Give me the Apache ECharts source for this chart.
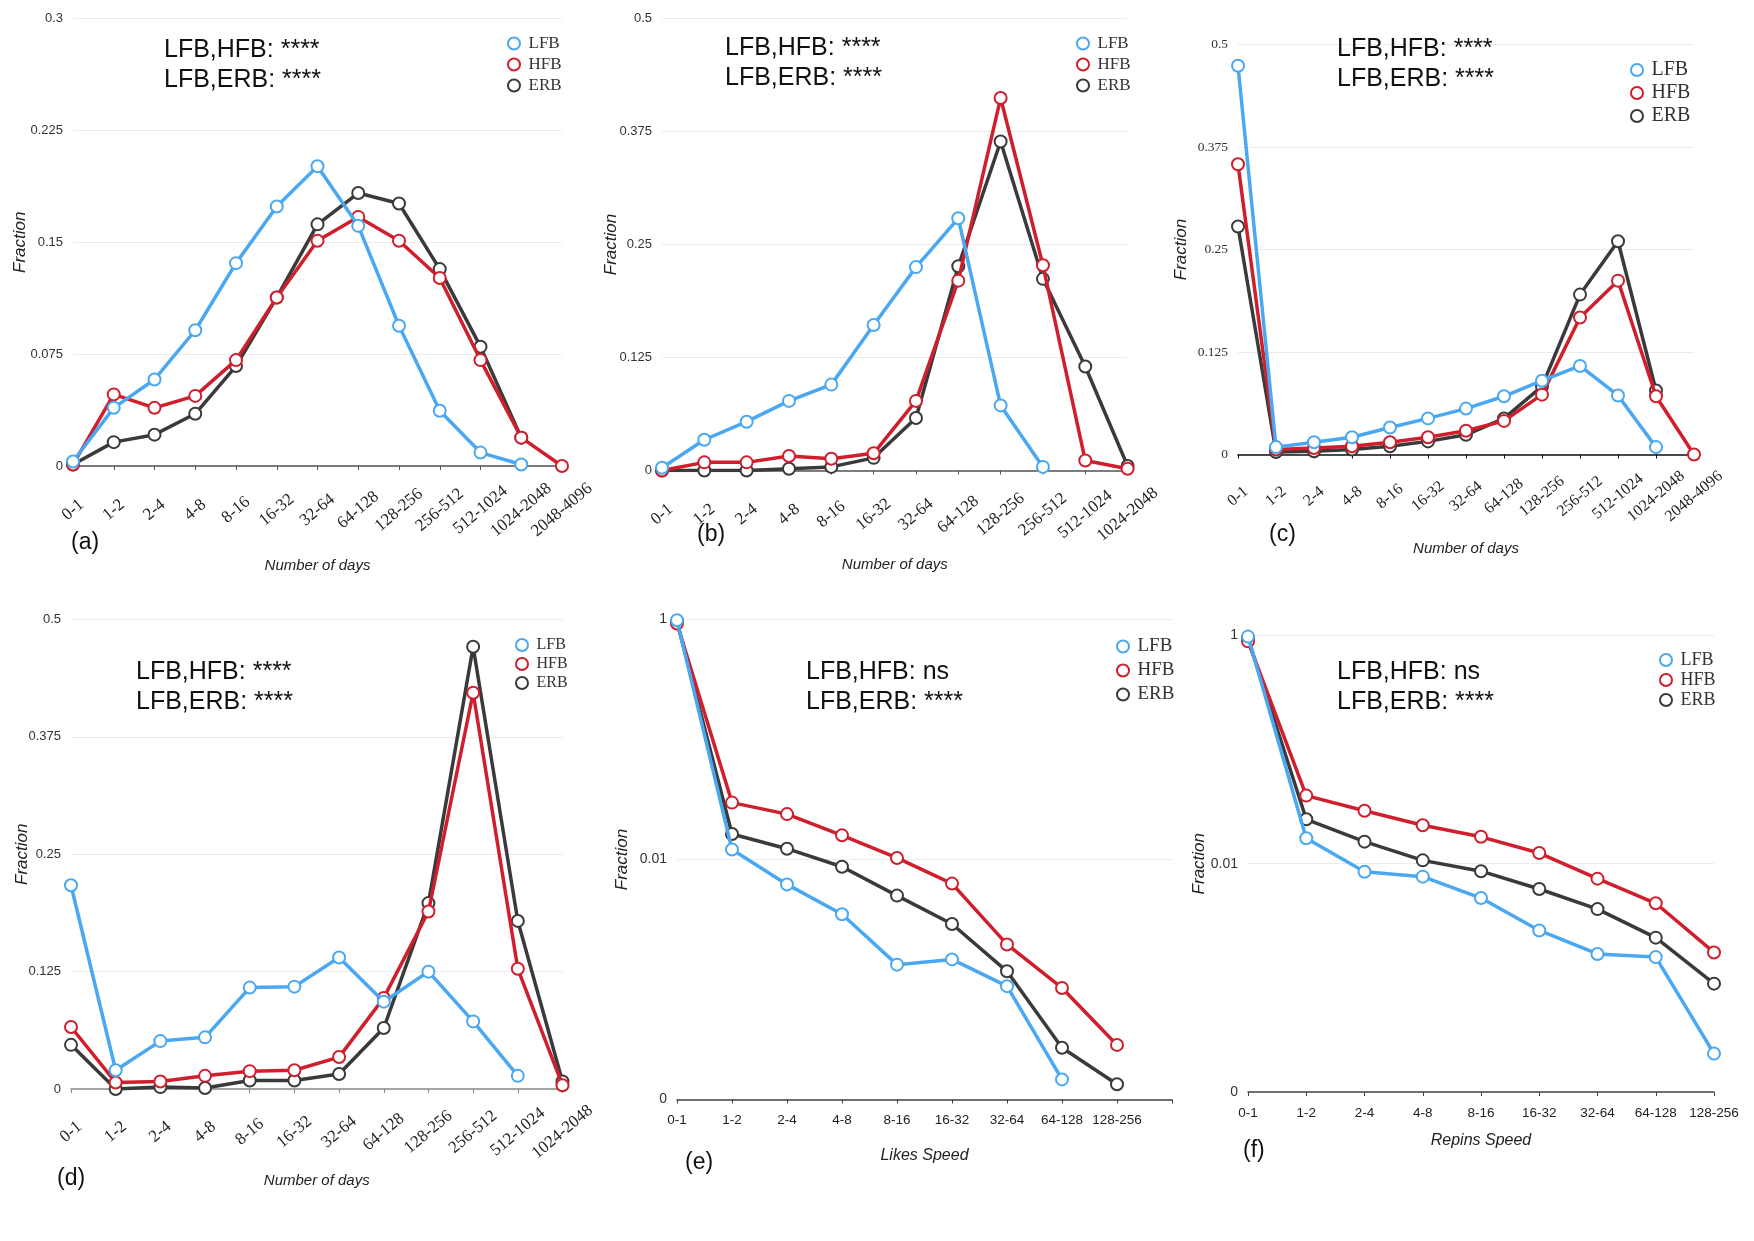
<!DOCTYPE html>
<html>
<head>
<meta charset="utf-8">
<script src="https://cdn.jsdelivr.net/npm/echarts@6/dist/echarts.min.js"></script>
<style>
html, body { margin: 0; background: #fff; }
#chart { width: 1754px; height: 1241px; }
</style>
</head>
<body>
<div id="chart"></div>
<script>
// categories
var daysLong = ['0-1', '1-2', '2-4', '4-8', '8-16', '16-32', '32-64', '64-128', '128-256', '256-512', '512-1024', '1024-2048', '2048-4096'];
var daysShort = ['0-1', '1-2', '2-4', '4-8', '8-16', '16-32', '32-64', '64-128', '128-256', '256-512', '512-1024', '1024-2048'];
var speedCats = ['0-1', '1-2', '2-4', '4-8', '8-16', '16-32', '32-64', '64-128', '128-256'];
var groups = ['LFB', 'HFB', 'ERB'];

// (a) fraction per number of days
var aLFB = [0.003, 0.039, 0.058, 0.091, 0.136, 0.174, 0.201, 0.161, 0.094, 0.037, 0.009, 0.001, null];
var aHFB = [0.001, 0.048, 0.039, 0.047, 0.071, 0.113, 0.151, 0.167, 0.151, 0.126, 0.071, 0.019, 0.0];
var aERB = [0.001, 0.016, 0.021, 0.035, 0.067, 0.113, 0.162, 0.183, 0.176, 0.132, 0.080, 0.019, null];

// (b)
var bLFB = [0.003, 0.034, 0.054, 0.077, 0.095, 0.161, 0.225, 0.279, 0.072, 0.004, null, null];
var bHFB = [0.0, 0.009, 0.009, 0.016, 0.013, 0.019, 0.077, 0.210, 0.412, 0.227, 0.011, 0.002];
var bERB = [0.0, 0.0, 0.0, 0.002, 0.004, 0.014, 0.058, 0.226, 0.364, 0.212, 0.115, 0.005];

// (c)
var cLFB = [0.474, 0.009, 0.015, 0.021, 0.033, 0.044, 0.056, 0.071, 0.090, 0.108, 0.072, 0.009, null];
var cHFB = [0.354, 0.006, 0.008, 0.010, 0.015, 0.021, 0.029, 0.041, 0.073, 0.167, 0.212, 0.071, 0.0];
var cERB = [0.278, 0.003, 0.004, 0.006, 0.010, 0.016, 0.024, 0.044, 0.083, 0.195, 0.260, 0.078, null];

// (d)
var dLFB = [0.217, 0.020, 0.051, 0.055, 0.108, 0.109, 0.140, 0.093, 0.125, 0.072, 0.014, null];
var dHFB = [0.066, 0.007, 0.008, 0.014, 0.019, 0.020, 0.034, 0.097, 0.189, 0.422, 0.128, 0.004];
var dERB = [0.047, 0.0, 0.002, 0.001, 0.009, 0.009, 0.016, 0.065, 0.198, 0.471, 0.179, 0.008];

// (e) likes speed, log scale
var eLFB = [0.985, 0.0121, 0.0062, 0.0035, 0.00133, 0.00147, 0.00088, 0.000147, null];
var eHFB = [0.927, 0.0298, 0.0239, 0.0159, 0.0103, 0.0063, 0.00196, 0.00085, 0.000285];
var eERB = [0.96, 0.0163, 0.0123, 0.0087, 0.0050, 0.0029, 0.00117, 0.00027, 0.000134];

// (f) repins speed, log scale
var fLFB = [0.976, 0.0167, 0.0085, 0.0077, 0.0050, 0.0026, 0.00162, 0.00152, 0.000217];
var fHFB = [0.887, 0.0395, 0.0291, 0.0217, 0.0172, 0.0124, 0.0074, 0.0045, 0.00167];
var fERB = [0.94, 0.0245, 0.0156, 0.0107, 0.0086, 0.0060, 0.0040, 0.00225, 0.00089];

var colors = { LFB: '#4aa8f2', HFB: '#d01f2c', ERB: '#3a3a3a' };
var sans = '"Liberation Sans", Arial, sans-serif';
var serif = '"Liberation Serif", "Times New Roman", serif';

var chart = echarts.init(document.getElementById('chart'));

var grids = [
	{ left: 73, top: 18.5, width: 489, height: 447.5 },
	{ left: 662, top: 18.5, width: 465.6, height: 452 },
	{ left: 1238, top: 44.5, width: 456, height: 410 },
	{ left: 71, top: 619.5, width: 491.5, height: 469.5 },
	{ left: 677, top: 619.5, width: 495, height: 480 },
	{ left: 1248, top: 635.4, width: 466, height: 456.6 }
];

function catAxis(idx, cats, rotated, lineColor, nameText, nameGap, fontSize, margin) {
	var ax = {
		type: 'category',
		gridIndex: idx,
		data: cats,
		boundaryGap: false,
		name: nameText,
		nameLocation: 'middle',
		nameGap: nameGap,
		nameMoveOverlap: false,
		nameTextStyle: { fontFamily: sans, fontStyle: 'italic', fontSize: rotated ? 15 : 16, color: '#222' },
		axisLine: { lineStyle: { color: lineColor, width: 1.5 } },
		axisTick: { show: true, alignWithLabel: true, length: 4, lineStyle: { color: lineColor } },
		axisLabel: {
			interval: 0,
			rotate: rotated ? 40 : 0,
			margin: margin,
			fontFamily: rotated ? serif : sans,
			fontSize: fontSize,
			color: '#222',
			formatter: function (v) { return v == null ? '' : v; }
		},
		splitLine: { show: false }
	};
	if (rotated) {
		// slanted labels sit centred under their tick
		ax.axisLabel.align = 'center';
		ax.axisLabel.verticalAlign = 'middle';
	}
	return ax;
}

function valAxis(idx, max, interval, font, fontSize, nameGap) {
	return {
		type: 'value',
		gridIndex: idx,
		min: 0,
		max: max,
		interval: interval,
		name: 'Fraction',
		nameLocation: 'middle',
		nameGap: nameGap,
		nameMoveOverlap: false,
		nameTextStyle: { fontFamily: sans, fontStyle: 'italic', fontSize: 17, color: '#222' },
		axisLine: { show: false },
		axisTick: { show: false },
		axisLabel: { fontFamily: font, fontSize: fontSize, color: '#333', margin: 10 },
		splitLine: { lineStyle: { color: '#ebebeb', width: 1 } }
	};
}

function logAxis(idx, nameGap) {
	return {
		type: 'log',
		logBase: 10,
		gridIndex: idx,
		min: 0.0001,
		max: 1,
		interval: 2,
		name: 'Fraction',
		nameLocation: 'middle',
		nameGap: nameGap,
		nameMoveOverlap: false,
		nameTextStyle: { fontFamily: sans, fontStyle: 'italic', fontSize: 17, color: '#222' },
		axisLine: { show: false },
		axisTick: { show: false },
		axisLabel: {
			fontFamily: sans, fontSize: 14, color: '#333', margin: 10,
			formatter: function (v) { return v <= 0.00011 ? '0' : String(Number(v.toPrecision(3))); }
		},
		splitLine: { lineStyle: { color: '#ebebeb', width: 1 } }
	};
}

var xAxes = [
	catAxis(0, daysLong, true, '#555', 'Number of days', 92, 17, 44),
	catAxis(1, daysShort, true, '#555', 'Number of days', 87, 17, 44),
	catAxis(2, daysLong, true, '#111', 'Number of days', 87, 16, 42),
	catAxis(3, daysShort, true, '#888', 'Number of days', 84, 17, 43),
	catAxis(4, speedCats, false, '#444', 'Likes Speed', 48, 13.5, 14),
	catAxis(5, speedCats, false, '#444', 'Repins Speed', 41, 13.5, 14)
];
xAxes[4].max = speedCats.length;

var yAxes = [
	valAxis(0, 0.3, 0.075, sans, 13, 44),
	valAxis(1, 0.5, 0.125, sans, 13, 42),
	valAxis(2, 0.5, 0.125, serif, 13.5, 48),
	valAxis(3, 0.5, 0.125, sans, 13, 40),
	logAxis(4, 46),
	logAxis(5, 40)
];

var panelData = [
	[aLFB, aHFB, aERB],
	[bLFB, bHFB, bERB],
	[cLFB, cHFB, cERB],
	[dLFB, dHFB, dERB],
	[eLFB, eHFB, eERB],
	[fLFB, fHFB, fERB]
];

var series = [];
for (var p = 0; p < panelData.length; p++) {
	// draw ERB first, LFB last (on top)
	for (var g = 2; g >= 0; g--) {
		var name = groups[g];
		series.push({
			name: name,
			type: 'line',
			xAxisIndex: p,
			yAxisIndex: p,
			data: panelData[p][g],
			symbol: 'emptyCircle',
			symbolSize: 12,
			showAllSymbol: true,
			lineStyle: { color: colors[name], width: 3.5 },
			itemStyle: { color: colors[name], borderColor: colors[name], borderWidth: 3.5 },
			z: 3 + (2 - g)
		});
	}
}

function legendAt(left, top, fontSize, gap) {
	return {
		data: groups,
		orient: 'vertical',
		left: left,
		top: top,
		icon: 'emptyCircle',
		itemWidth: 19,
		itemHeight: 12,
		itemGap: gap,
		selectedMode: false,
		itemStyle: { borderWidth: 3 },
		textStyle: { fontFamily: serif, fontSize: fontSize, color: '#333' }
	};
}

var legends = [
	legendAt(502, 30, 17, 4),
	legendAt(1071, 30, 17, 4),
	legendAt(1625, 55, 20, 3),
	legendAt(510, 632, 16, 3),
	legendAt(1111, 632, 19, 5),
	legendAt(1654, 646, 18, 2)
];

var statA = 'LFB,HFB: ****\nLFB,ERB: ****';
var statB = 'LFB,HFB: ns\nLFB,ERB: ****';
var notes = [
	[164, 35, statA], [725, 33, statA], [1337, 34, statA],
	[136, 657, statA], [806, 657, statB], [1337, 657, statB]
];
var tags = [
	[71, 531, '(a)'], [697, 523, '(b)'], [1269, 523, '(c)'],
	[57, 1167, '(d)'], [685, 1151, '(e)'], [1243, 1139, '(f)']
];

var graphics = [];
notes.forEach(function (n) {
	graphics.push({
		type: 'text', left: n[0], top: n[1], z: 100,
		style: { text: n[2], font: '25px ' + sans, lineHeight: 30, fill: '#111' }
	});
});
tags.forEach(function (t) {
	graphics.push({
		type: 'text', left: t[0], top: t[1], z: 100,
		style: { text: t[2], font: '23px ' + sans, fill: '#111' }
	});
});

chart.setOption({
	animation: false,
	backgroundColor: '#fff',
	grid: grids,
	xAxis: xAxes,
	yAxis: yAxes,
	legend: legends,
	series: series,
	graphic: graphics
});
</script>
</body>
</html>
